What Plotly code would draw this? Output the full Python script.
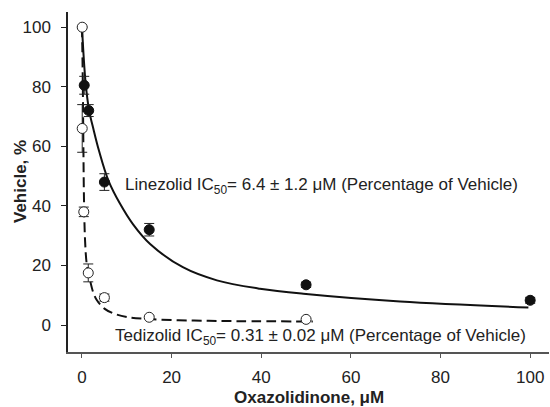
import plotly.graph_objects as go

# Linezolid (filled circles)
lin_x = [0.5, 1.5, 5, 15, 50, 100]
lin_y = [80.5, 72, 48, 32, 13.5, 8.3]
lin_err = [3, 2, 2.8, 2.1, 0.9, 1.0]

# Tedizolid (open circles)
ted_x = [0.05, 0.05, 0.4, 1.4, 5, 15, 50]
ted_y = [100, 66, 38, 17.5, 9.2, 2.6, 1.9]
ted_err = [0, 8, 1.6, 3, 1.2, 0.5, 0.4]

# Fitted curves
lin_fit_x = [0, 0.8, 1.6, 2.6, 3.8, 5.9, 8.5, 11.4, 15.2, 22.5, 30.1, 39.7, 49.4, 71, 99.6]
lin_fit_y = [100, 81.5, 72, 65.5, 58.5, 48.5, 40.7, 33.8, 27.2, 19.4, 15.0, 12.2, 10.5, 7.9, 5.9]
ted_fit_x = [0, 0.15, 0.3, 0.45, 0.7, 1.1, 1.8, 2.5, 3.3, 5, 7, 10, 15, 25, 35, 51.5]
ted_fit_y = [100, 85, 62, 42, 28, 20, 15, 11, 8.4, 5.5, 3.9, 2.7, 2.0, 1.5, 1.3, 1.2]

x_ticks = [0, 20, 40, 60, 80, 100]
y_ticks = [0, 20, 40, 60, 80, 100]

fig = go.Figure()
fig.add_trace(go.Scatter(x=lin_fit_x, y=lin_fit_y, mode="lines", line=dict(color="#111", width=2, shape="spline"), hoverinfo="skip"))
fig.add_trace(go.Scatter(x=ted_fit_x, y=ted_fit_y, mode="lines", line=dict(color="#111", width=2, dash="10px,5px", shape="spline"), hoverinfo="skip"))
fig.add_trace(go.Scatter(x=lin_x, y=lin_y, mode="markers",
                         marker=dict(color="#111", size=10, line=dict(color="#111", width=1)),
                         error_y=dict(type="data", array=lin_err, color="#222", thickness=1, width=5)))
fig.add_trace(go.Scatter(x=ted_x, y=ted_y, mode="markers",
                         marker=dict(color="white", size=10, line=dict(color="#222", width=1)),
                         error_y=dict(type="data", array=ted_err, color="#222", thickness=1, width=5)))

font = "Liberation Sans, Arial, sans-serif"
fig.add_annotation(x=9.15, y=46.6, xanchor="left", yanchor="middle", showarrow=False,
                   text="Linezolid IC<sub>50</sub>= 6.4 ± 1.2 μM (Percentage of Vehicle)",
                   font=dict(family=font, size=17, color="#222"))
fig.add_annotation(x=6.9, y=-4.0, xanchor="left", yanchor="middle", showarrow=False,
                   text="Tedizolid IC<sub>50</sub>= 0.31 ± 0.02 μM (Percentage of Vehicle)",
                   font=dict(family=font, size=17, color="#222"))
# axis titles
fig.add_annotation(xref="paper", yref="paper", x=0.5, y=0, yshift=-45, xanchor="center", yanchor="middle",
                   showarrow=False, text="<b>Oxazolidinone, μM</b>", font=dict(family=font, size=17, color="#222"))
fig.add_annotation(xref="paper", yref="paper", x=0, y=0.5, xshift=-48, xanchor="center", yanchor="middle",
                   textangle=-90, showarrow=False, text="<b>Vehicle, %</b>", font=dict(family=font, size=17, color="#222"))

fig.update_layout(
    width=550, height=407, margin=dict(l=68, r=1, t=12, b=55, autoexpand=False),
    plot_bgcolor="white", paper_bgcolor="white", showlegend=False,
    font=dict(family=font, size=17, color="#222"),
)
fig.update_xaxes(range=[-3.12, 104.2], tickvals=x_ticks, showgrid=False, zeroline=False, automargin=False,
                 showline=True, linecolor="#555", linewidth=1.5, ticks="outside", ticklen=4, tickcolor="#555",
                 ticklabelstandoff=5)
fig.update_yaxes(range=[-9.06, 105.1], tickvals=y_ticks, showgrid=False, zeroline=False, automargin=False,
                 showline=True, linecolor="#222", linewidth=1.5, ticks="outside", ticklen=5, tickcolor="#222",
                 ticklabelstandoff=7)
fig.write_html("out.html", config={"displayModeBar": False},
               post_script="document.body.style.margin='0';document.body.style.padding='0';")
